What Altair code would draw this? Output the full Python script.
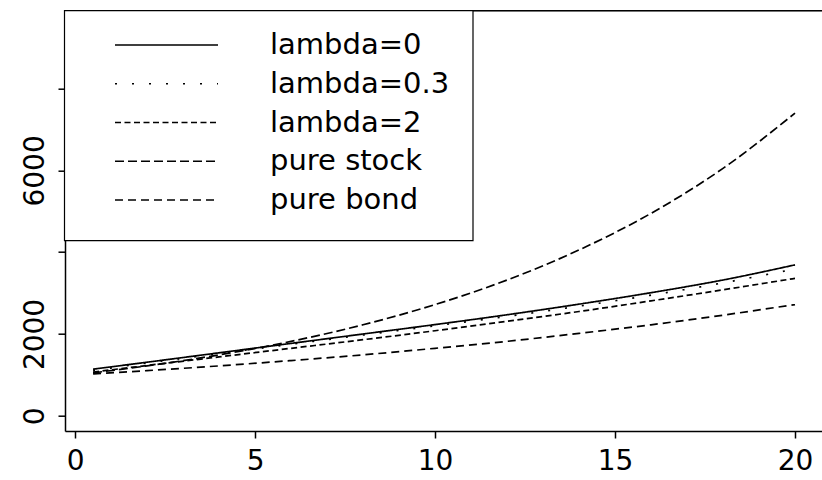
import altair as alt
import pandas as pd

# ---- data ----
t = [0.5, 2, 4, 6, 8, 10, 12, 14, 16, 18, 20]
lambda0 = [1140, 1310, 1540, 1770, 2000, 2230, 2470, 2730, 3010, 3320, 3690]
lambda03 = [1110, 1290, 1520, 1750, 1975, 2200, 2430, 2680, 2950, 3250, 3590]
lambda2 = [1070, 1230, 1440, 1650, 1860, 2080, 2310, 2550, 2810, 3080, 3360]
pure_stock = [1050, 1220, 1490, 1820, 2225, 2720, 3320, 4055, 4950, 6050, 7400]
pure_bond = [1025, 1105, 1220, 1350, 1490, 1650, 1820, 2015, 2225, 2460, 2720]

labels = ["lambda=0", "lambda=0.3", "lambda=2", "pure stock", "pure bond"]
series_values = [lambda0, lambda03, lambda2, pure_stock, pure_bond]
dashes = [[1, 0], [2, 15], [6, 3.5], [9, 4], [8, 5]]

x_ticks = [0, 5, 10, 15, 20]
y_ticks = [0, 2000, 4000, 6000, 8000]
y_hidden = [4000, 8000]

rows = []
for lab, vals in zip(labels, series_values):
    for ti, v in zip(t, vals):
        rows.append({"t": ti, "value": v, "series": lab})
df = pd.DataFrame(rows)

legend_df = pd.DataFrame({"series": labels, "row": list(range(len(labels)))})

FONT = "DejaVu Sans"
W, H = 757, 420.3

dash_scale = alt.Scale(domain=labels, range=dashes)

lines = alt.Chart(df).mark_line(color="black", strokeWidth=1.7, interpolate="monotone").encode(
    x=alt.X("t:Q", scale=alt.Scale(domain=[-0.28, 20.75], nice=False, zero=False),
            axis=alt.Axis(values=x_ticks, title=None, grid=False, labelFontSize=28,
                          labelFont=FONT, labelColor="black", tickSize=7, tickColor="black",
                          tickWidth=1.5, domainColor="black", domainWidth=1.5,
                          labelPadding=9, labelBaseline="top", labelFlush=False, format="d")),
    y=alt.Y("value:Q", scale=alt.Scale(domain=[-372, 9905], nice=False, zero=False),
            axis=alt.Axis(values=y_ticks, title=None, grid=False, labelFontSize=28,
                          labelFont=FONT, labelColor="black", labelAngle=-90,
                          labelAlign="center", labelBaseline="alphabetic", format="d",
                          labelExpr="indexof([" + ",".join(str(v) for v in y_hidden) + "], datum.value) >= 0 ? '' : datum.label",
                          tickSize=7, tickColor="black", tickWidth=1.5,
                          domainColor="black", domainWidth=1.5, labelPadding=15,
                          labelFlush=False, labelOverlap=False)),
    strokeDash=alt.StrokeDash("series:N", scale=dash_scale, legend=None),
    detail="series:N",
)

frame_df = pd.DataFrame({"k": [0]})
top_rule = alt.Chart(frame_df).mark_rule(color="black", strokeWidth=1.5).encode(
    x=alt.value(0), x2=alt.value(W), y=alt.value(0)
)

box = alt.Chart(frame_df).mark_rect(fill="white", stroke="black", strokeWidth=1.2).encode(
    x=alt.value(-0.5), x2=alt.value(408), y=alt.value(0), y2=alt.value(230)
)

row_scale = alt.Scale(domain=[0, 4], range=[34.3, 189.3])

leg_lines = alt.Chart(legend_df).mark_rule(color="black", strokeWidth=1.7).encode(
    x=alt.value(50), x2=alt.value(153),
    y=alt.Y("row:Q", scale=row_scale, axis=None),
    strokeDash=alt.StrokeDash("series:N", scale=dash_scale, legend=None),
)

leg_text = alt.Chart(legend_df).mark_text(
    align="left", baseline="middle", font=FONT, fontSize=29, color="black"
).encode(
    x=alt.value(205),
    y=alt.Y("row:Q", scale=row_scale, axis=None),
    text="series:N",
)

legend = alt.layer(box, leg_lines, leg_text)

chart = alt.layer(lines, top_rule, legend).resolve_scale(y="independent").properties(
    width=W, height=H,
    padding={"left": 65, "top": 10.7, "right": 0, "bottom": 49},
    autosize=alt.AutoSizeParams(type="none"),
).configure_view(stroke=None).configure(background="white")

chart.save("out.html", embed_options={"renderer": "svg", "actions": False})
